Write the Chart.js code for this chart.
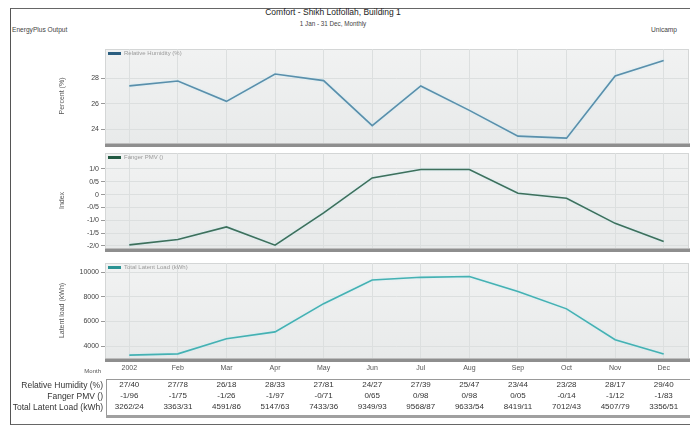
<!DOCTYPE html>
<html>
<head>
<meta charset="utf-8">
<title>Comfort - Shikh Lotfollah, Building 1</title>
<script src="https://cdn.jsdelivr.net/npm/chart.js@4.4.1/dist/chart.umd.min.js"></script>
<style>
  body { margin: 0; background: #fff; font-family: "Liberation Sans Narrow", "Liberation Sans", Arial, sans-serif; color: #333; }
  #page { position: relative; width: 690px; height: 427px; overflow: hidden; }
  #frame { position: absolute; left: 10px; top: 8px; width: 700px; height: 415px; border-left: 1px solid #555; border-top: 1px solid #666; border-bottom: 1px solid #666; }
  .txt { position: absolute; white-space: nowrap; line-height: 1; }
  canvas { position: absolute; left: 0; }
  #tableBox { position: absolute; left: 106px; top: 379px; width: 600px; height: 35px; border: 1px solid #999; border-right: none; }
  #tableShadow { position: absolute; left: 106px; top: 415px; width: 600px; height: 3px; background: #a0a0a0; }
</style>
</head>
<body>
<div id="page">
  <div id="frame"></div>
  <div class="txt" style="left:0;width:666px;text-align:center;top:8px;font-size:8.5px;color:#222;">Comfort - Shikh Lotfollah, Building 1</div>
  <div class="txt" style="left:0;width:666px;text-align:center;top:21px;font-size:6.3px;color:#444;">1 Jan - 31 Dec, Monthly</div>
  <div class="txt" style="left:12px;top:27px;font-size:6.6px;color:#444;">EnergyPlus Output</div>
  <div class="txt" style="left:651px;top:27px;font-size:6.6px;color:#444;">Unicamp</div>

  <canvas id="rhChart" width="690" height="100" style="top:49px"></canvas>
  <canvas id="pmvChart" width="690" height="101" style="top:153px"></canvas>
  <canvas id="loadChart" width="690" height="111" style="top:263px"></canvas>

  <div id="tableBox"></div>
  <div id="tableShadow"></div>
</div>

<script>
// Monthly values from the EnergyPlus comfort report
const months = ['2002', 'Feb', 'Mar', 'Apr', 'May', 'Jun', 'Jul', 'Aug', 'Sep', 'Oct', 'Nov', 'Dec'];
const relHumidity = [27.40, 27.78, 26.18, 28.33, 27.81, 24.27, 27.39, 25.47, 23.44, 23.28, 28.17, 29.40];
const fangerPmv = [-1.96, -1.75, -1.26, -1.97, -0.71, 0.65, 0.98, 0.98, 0.05, -0.14, -1.12, -1.83];
const latentLoad = [3262.24, 3363.31, 4591.86, 5147.63, 7433.36, 9349.93, 9568.87, 9633.54, 8419.11, 7012.43, 4507.79, 3356.51];

// Tick values for each panel
const rhTicks = [24, 26, 28];
const pmvTicks = [-2, -1.5, -1, -0.5, 0, 0.5, 1];
const loadTicks = [4000, 6000, 8000, 10000];

// The report writes decimals with a slash
function slashNum(v, digits) {
    if (v === 0) return '0';
    return v.toFixed(digits).replace('.', '/');
}

const FONT = '"Liberation Sans Narrow", "Liberation Sans", Arial, sans-serif';

// Plot background and the grey bar under each panel
const panelBackdrop = {
    id: 'panelBackdrop',
    beforeDraw(chart) {
        const { ctx, chartArea: a } = chart;
        ctx.save();
        const g = ctx.createLinearGradient(0, a.top, 0, a.bottom);
        g.addColorStop(0, '#f1f2f2');
        g.addColorStop(1, '#e8eaea');
        ctx.fillStyle = g;
        ctx.fillRect(a.left, a.top, a.right - a.left, a.bottom - a.top);
        ctx.strokeStyle = '#d4d6d6';
        ctx.lineWidth = 1;
        ctx.strokeRect(a.left + 0.5, a.top + 0.5, a.right - a.left, a.bottom - a.top);
        ctx.fillStyle = '#bdbdbd';
        ctx.fillRect(a.left, a.bottom, a.right - a.left + 4, 1);
        ctx.fillStyle = '#8e8e8e';
        ctx.fillRect(a.left, a.bottom + 1, a.right - a.left + 4, 3);
        ctx.restore();
    }
};

// Small legend in the top left corner of the plot
const panelLegend = {
    id: 'panelLegend',
    afterDraw(chart, args, opts) {
        const { ctx, chartArea: a } = chart;
        const ds = chart.data.datasets[0];
        const y = a.top + 4.5;
        ctx.save();
        ctx.strokeStyle = opts.swatch;
        ctx.lineWidth = 3;
        ctx.beginPath();
        ctx.moveTo(a.left + 3, y);
        ctx.lineTo(a.left + 16, y);
        ctx.stroke();
        ctx.font = '6px ' + FONT;
        ctx.fillStyle = '#9a9a9a';
        ctx.textBaseline = 'middle';
        ctx.fillText(ds.label, a.left + 19, y);
        ctx.restore();
    }
};

// Soft light halo under the lines
const lineHalo = {
    id: 'lineHalo',
    beforeDatasetsDraw(chart) {
        chart.ctx.save();
        chart.ctx.shadowColor = 'rgba(200, 235, 245, 0.9)';
        chart.ctx.shadowBlur = 2;
    },
    afterDatasetsDraw(chart) {
        chart.ctx.restore();
    }
};

Chart.register(panelBackdrop, panelLegend, lineHalo);

function makePanel(id, cfg) {
    return new Chart(document.getElementById(id), {
        type: 'line',
        data: {
            labels: months,
            datasets: [{
                label: cfg.label,
                data: cfg.data,
                borderColor: cfg.color,
                borderWidth: 1.6,
                pointRadius: 0,
                tension: 0
            }]
        },
        options: {
            responsive: false,
            animation: false,
            layout: { padding: { left: 58, right: 2, top: 0, bottom: 0 } },
            plugins: {
                legend: { display: false },
                tooltip: { enabled: false },
                panelLegend: { swatch: cfg.swatch }
            },
            scales: {
                x: {
                    offset: true,
                    grid: { color: '#dcdfdf', offset: false, drawTicks: false },
                    border: { display: false },
                    ticks: {
                        display: cfg.showMonths,
                        padding: 6,
                        color: '#555',
                        font: { family: FONT, size: 7 },
                        maxRotation: 0,
                        autoSkip: false
                    },
                    afterFit(s) {
                        s.height = cfg.showMonths ? 16 : 6;
                        s.paddingLeft = 0;
                        s.paddingRight = 0;
                    }
                },
                y: {
                    min: cfg.min,
                    max: cfg.max,
                    grid: { color: '#dcdfdf', tickColor: '#999', tickLength: 4 },
                    border: { display: false },
                    ticks: {
                        color: '#444',
                        padding: 2,
                        font: { family: FONT, size: 7 },
                        callback: cfg.fmt
                    },
                    title: {
                        display: true,
                        text: cfg.title,
                        color: '#555',
                        padding: 0,
                        font: { family: FONT, size: 7 }
                    },
                    afterBuildTicks(s) {
                        s.ticks = cfg.ticks.map(v => ({ value: v }));
                    },
                    afterFit(s) {
                        s.width = 47;
                        s.paddingTop = 0;
                        s.paddingBottom = 0;
                    }
                }
            }
        }
    });
}

const rhChart = makePanel('rhChart', {
    label: 'Relative Humidity (%)',
    data: relHumidity,
    color: '#5a8fab',
    swatch: '#2b5e80',
    min: 22.9, max: 30.3,
    ticks: rhTicks,
    fmt: v => String(v),
    title: 'Percent (%)',
    showMonths: false
});

const pmvChart = makePanel('pmvChart', {
    label: 'Fanger PMV ()',
    data: fangerPmv,
    color: '#3e705b',
    swatch: '#225a42',
    min: -2.08, max: 1.62,
    ticks: pmvTicks,
    fmt: v => slashNum(v, 1),
    title: 'Index',
    showMonths: false
});

const loadChart = makePanel('loadChart', {
    label: 'Total Latent Load (kWh)',
    data: latentLoad,
    color: '#45b1b2',
    swatch: '#2a9393',
    min: 3030, max: 10730,
    ticks: loadTicks,
    fmt: v => String(v),
    title: 'Latent load (kWh)',
    showMonths: true
});

// Summary table under the month axis, columns placed on the chart's x scale
const tableRows = [
    { label: 'Relative Humidity (%)', values: relHumidity, y: 381 },
    { label: 'Fanger PMV ()', values: fangerPmv, y: 392 },
    { label: 'Total Latent Load (kWh)', values: latentLoad, y: 403 }
];

const page = document.getElementById('page');

function addText(text, x, y, align, size, color) {
    const d = document.createElement('div');
    d.className = 'txt';
    d.textContent = text;
    d.style.top = y + 'px';
    d.style.fontSize = size + 'px';
    d.style.color = color || '#333';
    if (align === 'right') {
        d.style.right = (690 - x) + 'px';
        d.style.textAlign = 'right';
    } else if (align === 'center') {
        d.style.left = (x - 30) + 'px';
        d.style.width = '60px';
        d.style.textAlign = 'center';
    } else {
        d.style.left = x + 'px';
    }
    page.appendChild(d);
}

addText('Month', 101, 368, 'right', 6, '#555');

const xScale = loadChart.scales.x;
tableRows.forEach(row => {
    addText(row.label, 103, row.y, 'right', 8.5, '#333');
    row.values.forEach((v, i) => {
        addText(slashNum(v, 2), xScale.getPixelForValue(i), row.y, 'center', 8, '#333');
    });
});
</script>
</body>
</html>
